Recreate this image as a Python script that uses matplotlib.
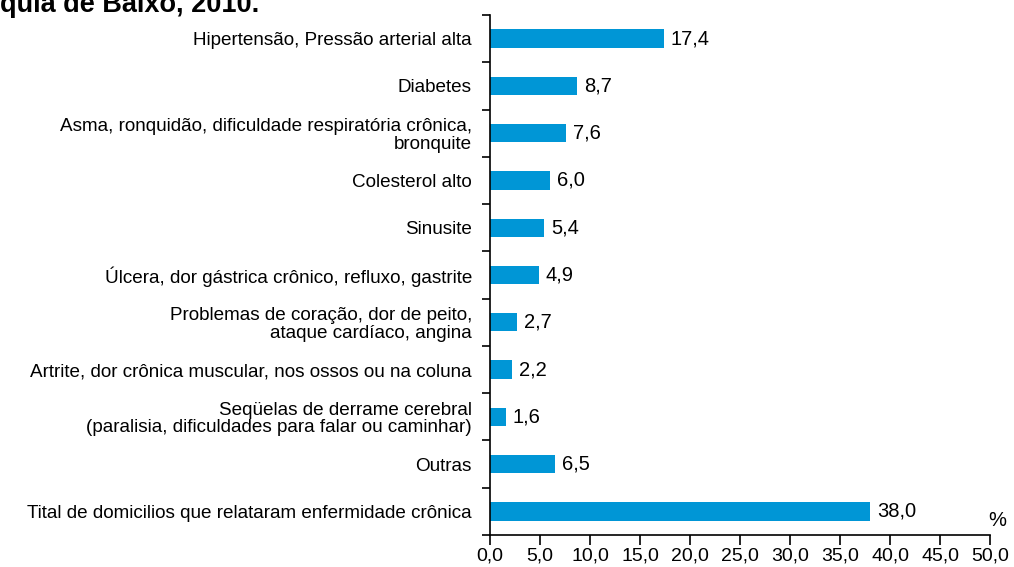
import matplotlib
matplotlib.use("Agg")
import matplotlib.pyplot as plt
import numpy as np

plt.rcParams['font.family'] = ['Liberation Sans', 'DejaVu Sans']

categories = [
    'Hipertensão, Pressão arterial alta',
    'Diabetes',
    'Asma, ronquidão, dificuldade respiratória crônica,\nbronquite',
    'Colesterol alto',
    'Sinusite',
    'Úlcera, dor gástrica crônico, refluxo, gastrite',
    'Problemas de coração, dor de peito,\nataque cardíaco, angina',
    'Artrite, dor crônica muscular, nos ossos ou na coluna',
    'Seqüelas de derrame cerebral\n(paralisia, dificuldades para falar ou caminhar)',
    'Outras',
    'Tital de domicilios que relataram enfermidade crônica',
]
values = [17.4, 8.7, 7.6, 6.0, 5.4, 4.9, 2.7, 2.2, 1.6, 6.5, 38.0]
xticks = [0, 5, 10, 15, 20, 25, 30, 35, 40, 45, 50]

fig = plt.figure(figsize=(10.14, 5.67), dpi=100)
ax = fig.add_axes([490 / 1014, 1 - 535 / 567, 500 / 1014, 520 / 567])

n = len(categories)
ypos = np.arange(n)
ax.barh(ypos, values, height=0.39, color='#0096d6')
ax.set_ylim(n - 0.5, -0.5)
ax.set_xlim(0, 50)

for y, v in zip(ypos, values):
    ax.text(v + 0.7, y, f'{v:.1f}'.replace('.', ','), va='center', ha='left', fontsize=14.5)

ax.set_yticks(ypos)
ax.set_yticklabels(categories, fontsize=13.6, linespacing=1.05)
ax.set_yticks(np.arange(n + 1) - 0.5, minor=True)
ax.tick_params(axis='y', which='major', length=0, pad=13)
ax.tick_params(axis='y', which='minor', length=6, width=1.2)

ax.set_xticks(xticks)
ax.set_xticklabels([f'{t:.1f}'.replace('.', ',') for t in xticks], fontsize=14)
ax.tick_params(axis='x', length=7, width=1.2, pad=2)

for s in ['top', 'right']:
    ax.spines[s].set_visible(False)
for s in ['left', 'bottom']:
    ax.spines[s].set_linewidth(1.2)

ax.text(1.015, 0.01, '%', transform=ax.transAxes, fontsize=14.5, ha='center', va='bottom')

fig.text(0.0, 1 - 12 / 567, 'quia de Baixo, 2010.', fontsize=19.5, fontweight='bold',
         ha='left', va='baseline')

fig.savefig('out.png', dpi=100)
